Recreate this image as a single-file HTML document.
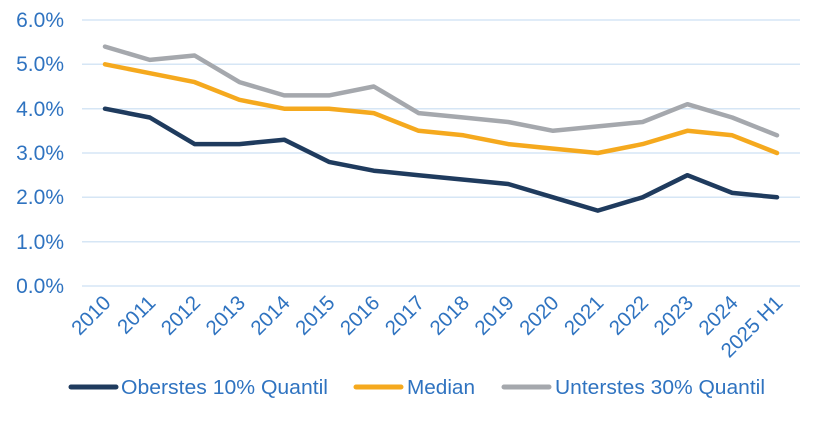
<!DOCTYPE html>
<html><head><meta charset="utf-8"><style>html,body{margin:0;padding:0;background:#fff}svg{display:block}</style></head><body>
<svg width="827" height="421" xmlns="http://www.w3.org/2000/svg" font-family="Liberation Sans, sans-serif">
<g stroke="#D6E6F5" stroke-width="1.5">
<line x1="82" x2="800" y1="20" y2="20"/><line x1="82" x2="800" y1="64.3" y2="64.3"/><line x1="82" x2="800" y1="108.7" y2="108.7"/><line x1="82" x2="800" y1="153" y2="153"/><line x1="82" x2="800" y1="197.3" y2="197.3"/><line x1="82" x2="800" y1="241.7" y2="241.7"/><line x1="82" x2="800" y1="286" y2="286"/>
</g>
<g fill="#2F73C0" font-size="21" text-anchor="end">
<text x="64" y="27">6.0%</text><text x="64" y="71">5.0%</text><text x="64" y="116">4.0%</text><text x="64" y="160">3.0%</text><text x="64" y="204">2.0%</text><text x="64" y="249">1.0%</text><text x="64" y="293">0.0%</text>
</g>
<g fill="#2F73C0" font-size="20.5" text-anchor="end">
<text x="112" y="304" transform="rotate(-45 112 304)">2010</text>
<text x="156.8" y="304" transform="rotate(-45 156.8 304)">2011</text>
<text x="201.6" y="304" transform="rotate(-45 201.6 304)">2012</text>
<text x="246.4" y="304" transform="rotate(-45 246.4 304)">2013</text>
<text x="291.2" y="304" transform="rotate(-45 291.2 304)">2014</text>
<text x="336" y="304" transform="rotate(-45 336 304)">2015</text>
<text x="380.8" y="304" transform="rotate(-45 380.8 304)">2016</text>
<text x="425.6" y="304" transform="rotate(-45 425.6 304)">2017</text>
<text x="470.4" y="304" transform="rotate(-45 470.4 304)">2018</text>
<text x="515.2" y="304" transform="rotate(-45 515.2 304)">2019</text>
<text x="560" y="304" transform="rotate(-45 560 304)">2020</text>
<text x="604.8" y="304" transform="rotate(-45 604.8 304)">2021</text>
<text x="649.6" y="304" transform="rotate(-45 649.6 304)">2022</text>
<text x="694.4" y="304" transform="rotate(-45 694.4 304)">2023</text>
<text x="739.2" y="304" transform="rotate(-45 739.2 304)">2024</text>
<text x="784" y="304" transform="rotate(-45 784 304)">2025 H1</text>
</g>
<g fill="none" stroke-width="4.5" stroke-linejoin="round" stroke-linecap="round">
<polyline stroke="#A5A8AD" points="105,46.6 149.8,59.9 194.6,55.5 239.4,82.1 284.2,95.4 329,95.4 373.8,86.5 418.6,113.1 463.4,117.5 508.2,122 553,130.8 597.8,126.4 642.6,122 687.4,104.2 732.2,117.5 777,135.3"/>
<polyline stroke="#F5A91E" points="105,64.3 149.8,73.2 194.6,82.1 239.4,99.8 284.2,108.7 329,108.7 373.8,113.1 418.6,130.8 463.4,135.3 508.2,144.1 553,148.6 597.8,153 642.6,144.1 687.4,130.8 732.2,135.3 777,153"/>
<polyline stroke="#1F3B5E" points="105,108.7 149.8,117.5 194.6,144.1 239.4,144.1 284.2,139.7 329,161.9 373.8,170.7 418.6,175.2 463.4,179.6 508.2,184 553,197.3 597.8,210.6 642.6,197.3 687.4,175.2 732.2,192.9 777,197.3"/>
</g>
<g stroke-width="5" stroke-linecap="round">
<line x1="71" x2="116" y1="387" y2="387" stroke="#1F3B5E"/>
<line x1="356" x2="401" y1="387" y2="387" stroke="#F5A91E"/>
<line x1="504" x2="549" y1="387" y2="387" stroke="#A5A8AD"/>
</g>
<g fill="#2F73C0" font-size="20">
<text x="121" y="394" textLength="207" lengthAdjust="spacingAndGlyphs">Oberstes 10% Quantil</text>
<text x="407" y="394" textLength="68" lengthAdjust="spacingAndGlyphs">Median</text>
<text x="555" y="394" textLength="210" lengthAdjust="spacingAndGlyphs">Unterstes 30% Quantil</text>
</g>
</svg>
</body></html>
